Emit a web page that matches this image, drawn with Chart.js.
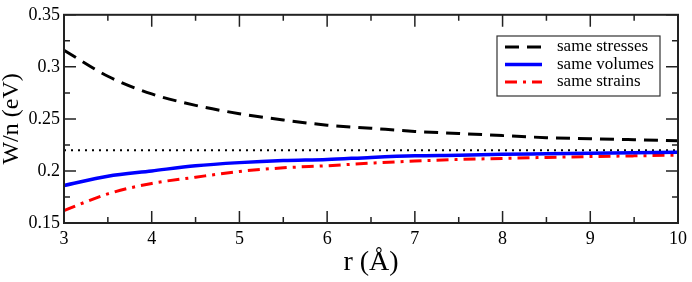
<!DOCTYPE html>
<html>
<head>
<meta charset="utf-8">
<script src="https://cdn.jsdelivr.net/npm/chart.js@4/dist/chart.umd.min.js"></script>
<style>
  html, body { margin: 0; padding: 0; background: #fff; }
  #wrap { width: 692px; height: 282px; }
</style>
</head>
<body>
<div id="wrap"><canvas id="myChart" width="692" height="282"></canvas></div>
<script>
// W/n versus r

const rValues = [3, 3.5, 4, 4.5, 5, 5.5, 6, 6.5, 7, 7.5, 8, 8.5, 9, 9.5, 10];
const sameStresses = [0.316, 0.291, 0.274, 0.263, 0.255, 0.249, 0.244, 0.241, 0.238, 0.236, 0.234, 0.232, 0.231, 0.230, 0.229];
const sameVolumes = [0.186, 0.195, 0.200, 0.205, 0.208, 0.210, 0.211, 0.213, 0.2145, 0.215, 0.216, 0.2165, 0.217, 0.2175, 0.218];
const sameStrains = [0.162, 0.178, 0.188, 0.194, 0.1995, 0.203, 0.205, 0.2075, 0.2095, 0.211, 0.212, 0.213, 0.2138, 0.2145, 0.2152];
const refLevel = 0.22;
const xTicks = [3, 4, 5, 6, 7, 8, 9, 10];
const yTicks = [0.15, 0.2, 0.25, 0.3, 0.35];
const labels = ['same stresses', 'same volumes', 'same strains'];

const serif = "'Liberation Serif', 'Times New Roman', serif";

function toPoints(ys) {
    return rValues.map((r, i) => ({x: r, y: ys[i]}));
}

// inward ticks on all four sides plus the frame
const frameTicks = {
    id: 'frameTicks',
    afterDatasetsDraw(chart) {
        const {ctx, chartArea: a, scales: {x, y}} = chart;
        ctx.save();
        ctx.strokeStyle = '#222';
        ctx.lineWidth = 1.5;
        ctx.beginPath();
        for (let i = 0; i <= 14; i++) {
            const px = x.getPixelForValue(3 + i * 0.5);
            const len = i % 2 === 0 ? 12 : 6;
            ctx.moveTo(px, a.bottom); ctx.lineTo(px, a.bottom - len);
            ctx.moveTo(px, a.top); ctx.lineTo(px, a.top + len);
        }
        for (let j = 0; j <= 8; j++) {
            const py = y.getPixelForValue(0.15 + j * 0.025);
            const len = j % 2 === 0 ? 12 : 6;
            ctx.moveTo(a.left, py); ctx.lineTo(a.left + len, py);
            ctx.moveTo(a.right, py); ctx.lineTo(a.right - len, py);
        }
        ctx.stroke();
        ctx.lineWidth = 2;
        ctx.strokeRect(a.left, a.top, a.right - a.left, a.bottom - a.top);
        ctx.restore();
    },
    afterDraw(chart) {
        const ctx = chart.ctx;
        const bx = 497, by = 36, bw = 163, bh = 60;
        ctx.save();
        ctx.fillStyle = '#fff';
        ctx.fillRect(bx, by, bw, bh);
        ctx.strokeStyle = '#333';
        ctx.lineWidth = 1.2;
        ctx.strokeRect(bx, by, bw, bh);
        ctx.font = '17px ' + serif;
        ctx.textBaseline = 'middle';
        chart.data.datasets.slice(0, 3).forEach((ds, i) => {
            const ry = by + 11 + i * 17.5;
            ctx.strokeStyle = ds.borderColor;
            ctx.lineWidth = ds.borderWidth;
            ctx.setLineDash(ds.borderDash || []);
            ctx.beginPath();
            ctx.moveTo(bx + 8, ry);
            ctx.lineTo(bx + 45, ry);
            ctx.stroke();
            ctx.setLineDash([]);
            ctx.fillStyle = '#000';
            ctx.fillText(ds.label, bx + 60, ry);
        });
        ctx.restore();
    }
};

const ctx = document.getElementById('myChart').getContext('2d');
const myChart = new Chart(ctx, {
    type: 'line',
    data: {
        datasets: [{
            label: labels[0],
            data: toPoints(sameStresses),
            borderColor: '#000',
            borderWidth: 3,
            borderDash: [14, 8],
            pointRadius: 0,
            cubicInterpolationMode: 'monotone',
            fill: false
        }, {
            label: labels[1],
            data: toPoints(sameVolumes),
            borderColor: '#0000ff',
            borderWidth: 3.5,
            pointRadius: 0,
            cubicInterpolationMode: 'monotone',
            fill: false
        }, {
            label: labels[2],
            data: toPoints(sameStrains),
            borderColor: '#ff0000',
            borderWidth: 3,
            borderDash: [12, 6, 3, 6],
            pointRadius: 0,
            cubicInterpolationMode: 'monotone',
            fill: false
        }, {
            label: 'reference',
            data: [{x: rValues[0], y: refLevel}, {x: rValues[rValues.length - 1], y: refLevel}],
            borderColor: '#000',
            borderWidth: 2,
            borderDash: [2, 5],
            pointRadius: 0,
            fill: false
        }]
    },
    options: {
        responsive: false,
        animation: false,
        events: [],
        layout: {padding: {top: 6, right: 9, left: 0, bottom: 0}},
        plugins: {legend: {display: false}, tooltip: {enabled: false}},
        scales: {
            x: {
                type: 'linear',
                min: 3,
                max: 10,
                afterFit(scale) { scale.height = 59; },
                afterBuildTicks(scale) { scale.ticks = xTicks.map(v => ({value: v})); },
                grid: {display: false, drawTicks: false},
                border: {display: false},
                ticks: {
                    autoSkip: false,
                    maxRotation: 0,
                    padding: 5,
                    color: '#000',
                    font: {family: serif, size: 18},
                    callback: v => String(v)
                },
                title: {
                    display: true,
                    text: 'r (Å)',
                    color: '#000',
                    font: {family: serif, size: 28, lineHeight: 1},
                    padding: {top: 0, bottom: 5}
                }
            },
            y: {
                type: 'linear',
                min: 0.15,
                max: 0.35,
                afterFit(scale) { scale.width = 64; },
                afterBuildTicks(scale) { scale.ticks = yTicks.map(v => ({value: v})); },
                grid: {display: false, drawTicks: false},
                border: {display: false},
                ticks: {
                    autoSkip: false,
                    padding: 4,
                    color: '#000',
                    font: {family: serif, size: 18},
                    callback: v => String(Number(v.toFixed(3)))
                },
                title: {
                    display: true,
                    text: 'W/n (eV)',
                    color: '#000',
                    font: {family: serif, size: 24, lineHeight: 1},
                    padding: {top: 0, bottom: 0}
                }
            }
        }
    },
    plugins: [frameTicks]
});
</script>
</body>
</html>
